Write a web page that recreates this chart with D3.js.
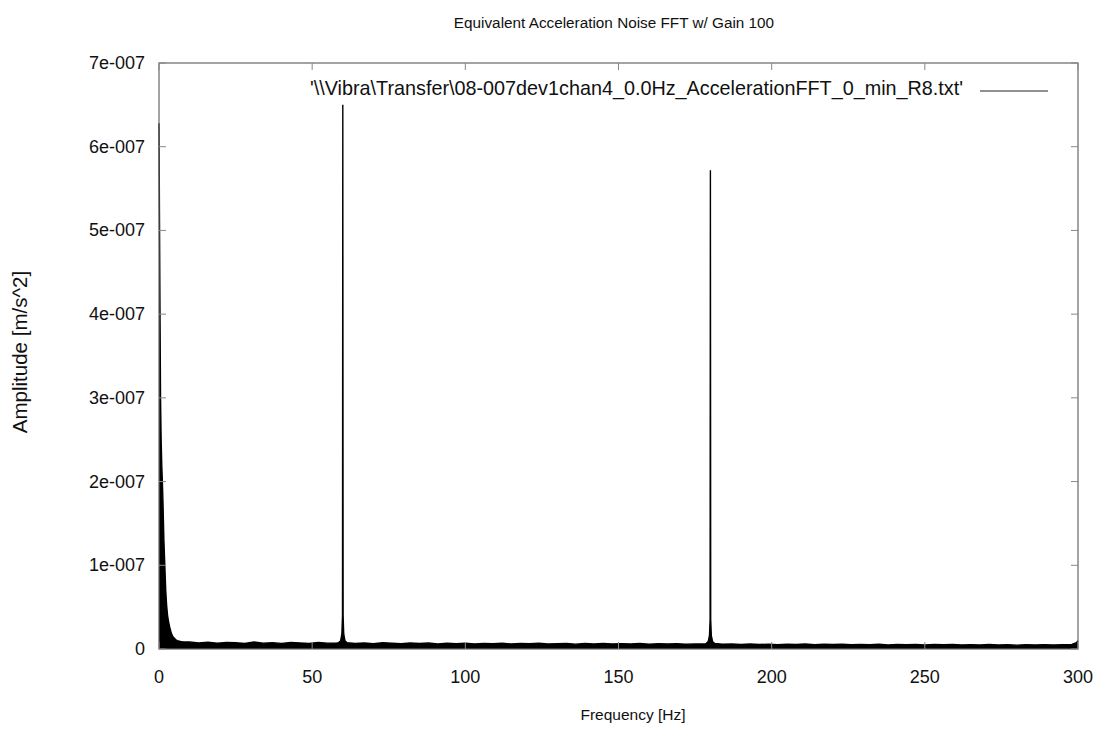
<!DOCTYPE html>
<html>
<head>
<meta charset="utf-8">
<script src="https://cdn.jsdelivr.net/npm/d3@7"></script>
<style>
  body { margin: 0; background: #fff; }
  text { font-family: "Liberation Sans", Arial, sans-serif; fill: #111; }
</style>
</head>
<body>
<svg id="chart" width="1100" height="743"></svg>
<script>
// tick values and labels
const xTicks = [0, 50, 100, 150, 200, 250, 300]
const yTicks = [0, 1e-7, 2e-7, 3e-7, 4e-7, 5e-7, 6e-7, 7e-7]
const yTickLabels = ["0", "1e-007", "2e-007", "3e-007", "4e-007", "5e-007", "6e-007", "7e-007"]

// amplitudes below are in units of 1e-9 m/s^2
// decay near DC
const lowFreq = [0, 0.15, 0.3, 0.5, 0.7, 0.9, 1.1, 1.3, 1.6, 1.9, 2.2, 2.5, 2.8, 3.1, 3.5, 4.0, 4.5, 5.0, 5.5, 6.0, 7.0, 8.0]
const lowAmp  = [628, 520, 420, 300, 250, 220, 200, 175, 130, 100, 70, 52, 40, 33, 26, 19, 15, 13, 11, 10, 9, 8.5]

// noise floor
const noiseFreq = [10, 13, 16, 19, 22, 25, 28, 31, 34, 37, 40, 43, 46, 49, 52, 55, 58,
  61, 64, 67, 70, 73, 76, 79, 82, 85, 88, 91, 94, 97, 100, 103, 106, 109, 112, 115, 118,
  121, 124, 127, 130, 133, 136, 139, 142, 145, 148, 151, 154, 157, 160, 163, 166, 169, 172, 175, 178,
  181, 184, 187, 190, 193, 196, 199, 202, 205, 208, 211, 214, 217, 220, 223, 226, 229, 232, 235, 238,
  241, 244, 247, 250, 253, 256, 259, 262, 265, 268, 271, 274, 277, 280, 283, 286, 289, 292, 295, 298, 299.5, 300]
const noiseAmp = [8.5, 7.2, 8.1, 6.8, 7.9, 7.4, 6.6, 8.3, 7.0, 7.6, 6.7, 7.8, 7.1, 6.5, 7.7, 7.0, 7.3,
  7.4, 6.6, 7.2, 6.3, 7.5, 6.9, 6.2, 7.1, 6.5, 7.3, 6.0, 6.8, 6.4, 7.0, 6.1, 6.7, 6.3, 6.9, 5.9, 6.6,
  6.2, 6.8, 6.0, 6.4, 6.7, 5.8, 6.5, 6.1, 6.6, 5.9, 6.3, 6.0, 6.5, 5.7, 6.2, 5.9, 6.4, 5.6, 6.1, 6.0,
  6.2, 5.6, 6.0, 5.4, 5.9, 5.5, 5.8, 5.2, 5.7, 5.4, 5.9, 5.1, 5.6, 5.3, 5.7, 5.0, 5.5, 5.2, 5.6, 4.9,
  5.4, 5.1, 5.5, 4.8, 5.3, 5.0, 5.4, 4.7, 5.2, 4.9, 5.3, 4.8, 5.1, 4.6, 5.2, 4.8, 5.0, 4.7, 5.1, 5.4, 7.5, 10]

// mains lines at 60 Hz and 180 Hz
const peakFreq = [58.6, 59.3, 59.7, 59.9, 60.0, 60.1, 60.3, 60.7, 61.4,
  178.6, 179.3, 179.7, 179.9, 180.0, 180.1, 180.3, 180.7, 181.4]
const peakAmp = [7.5, 10, 18, 40, 650, 40, 18, 10, 7.5,
  6.5, 9, 16, 35, 572, 35, 16, 9, 6.5]

const legendText = "'\\\\Vibra\\Transfer\\08-007dev1chan4_0.0Hz_AccelerationFFT_0_min_R8.txt'"

const margin = { left: 159, right: 1078, top: 63, bottom: 649 }

const svg = d3.select("#chart")

const x = d3.scaleLinear().domain([0, 300]).range([margin.left, margin.right])
const y = d3.scaleLinear().domain([0, 7e-7]).range([margin.bottom, margin.top])

// build series
var pts = []
lowFreq.forEach((f, i) => pts.push({ f: f, a: lowAmp[i] * 1e-9 }))
noiseFreq.forEach((f, i) => {
  if (Math.abs(f - 60) < 1.6 || Math.abs(f - 180) < 1.6) return
  pts.push({ f: f, a: noiseAmp[i] * 1e-9 })
})
peakFreq.forEach((f, i) => pts.push({ f: f, a: peakAmp[i] * 1e-9 }))
pts.sort((a, b) => a.f - b.f)

// data
svg.append("path")
  .datum(pts)
  .attr("fill", "#000")
  .attr("d", d3.area().x(d => x(d.f)).y0(y(0)).y1(d => y(d.a)))

svg.append("path")
  .datum(pts)
  .attr("fill", "none")
  .attr("stroke", "#000")
  .attr("stroke-width", 1.4)
  .attr("d", d3.line().x(d => x(d.f)).y(d => y(d.a)))

// frame
svg.append("rect")
  .attr("x", margin.left).attr("y", margin.top)
  .attr("width", margin.right - margin.left)
  .attr("height", margin.bottom - margin.top)
  .attr("fill", "none")
  .attr("stroke", "#666")
  .attr("stroke-width", 1.2)

// ticks (mirrored, inward)
const tl = 7
const tickG = svg.append("g").attr("stroke", "#888").attr("stroke-width", 1)
xTicks.forEach(t => {
  tickG.append("line").attr("x1", x(t)).attr("x2", x(t)).attr("y1", margin.bottom).attr("y2", margin.bottom - tl)
  tickG.append("line").attr("x1", x(t)).attr("x2", x(t)).attr("y1", margin.top).attr("y2", margin.top + tl)
})
yTicks.forEach(t => {
  tickG.append("line").attr("x1", margin.left).attr("x2", margin.left + tl).attr("y1", y(t)).attr("y2", y(t))
  tickG.append("line").attr("x1", margin.right).attr("x2", margin.right - tl).attr("y1", y(t)).attr("y2", y(t))
})

// tick labels
svg.append("g").selectAll("text")
  .data(xTicks)
  .join("text")
  .attr("x", d => x(d))
  .attr("y", 683)
  .attr("text-anchor", "middle")
  .attr("font-size", 18)
  .text(d => d)

svg.append("g").selectAll("text")
  .data(yTicks)
  .join("text")
  .attr("x", 145)
  .attr("y", d => y(d) + 6)
  .attr("text-anchor", "end")
  .attr("font-size", 18)
  .text((d, i) => yTickLabels[i])

// titles
svg.append("text")
  .attr("x", 614).attr("y", 28)
  .attr("text-anchor", "middle")
  .attr("font-size", 15.3)
  .text("Equivalent Acceleration Noise FFT w/ Gain 100")

svg.append("text")
  .attr("x", 633).attr("y", 720)
  .attr("text-anchor", "middle")
  .attr("font-size", 15.5)
  .text("Frequency [Hz]")

svg.append("text")
  .attr("transform", "translate(27,352) rotate(-90)")
  .attr("text-anchor", "middle")
  .attr("font-size", 20.5)
  .text("Amplitude [m/s^2]")

// legend
svg.append("text")
  .attr("x", 963).attr("y", 95)
  .attr("text-anchor", "end")
  .attr("font-size", 19.8)
  .text(legendText)

svg.append("line")
  .attr("x1", 980).attr("x2", 1048)
  .attr("y1", 91).attr("y2", 91)
  .attr("stroke", "#222")
  .attr("stroke-width", 1)
</script>
</body>
</html>
